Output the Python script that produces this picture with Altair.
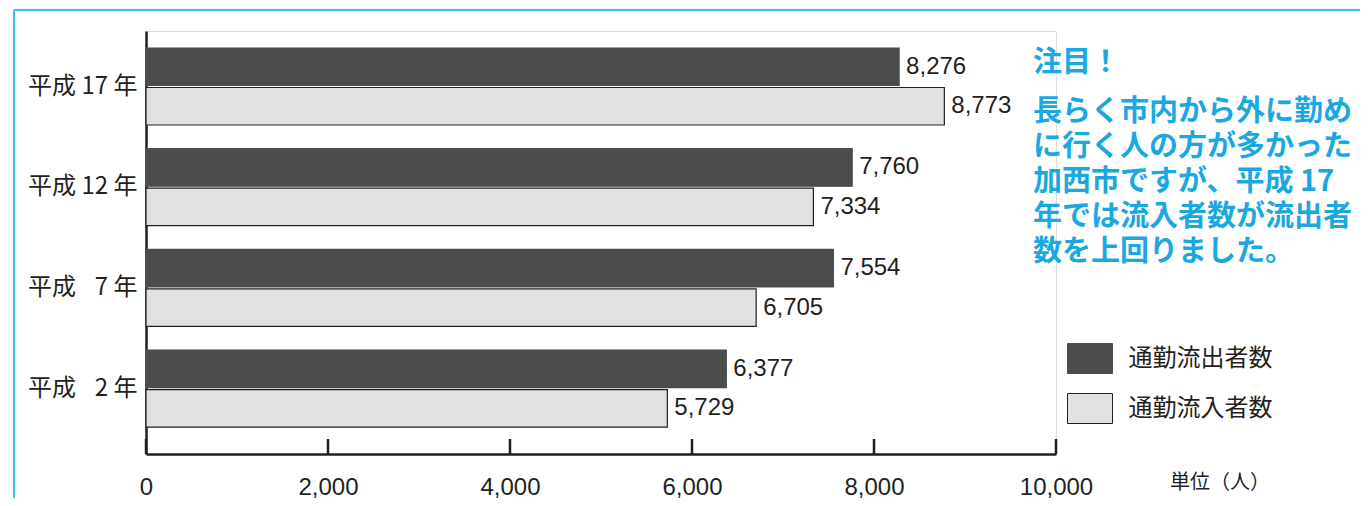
import altair as alt
import pandas as pd

# ---- data ----
years = ["平成 17 年", "平成 12 年", "平成\u2007 7 年", "平成\u2007 2 年"]
series = ["通勤流出者数", "通勤流入者数"]
outflow = [8276, 7760, 7554, 6377]
inflow = [8773, 7334, 6705, 5729]
tick_values = [0, 2000, 4000, 6000, 8000, 10000]
unit_label = ["単位（人）"]
note_title = ["注目！"]
note_body = ["長らく市内から外に勤め\nに行く人の方が多かった\n加西市ですが、平成 17\n年では流入者数が流出者\n数を上回りました。"]

rows = []
for y, o, i in zip(years, outflow, inflow):
    rows.append({"year": y, "series": series[0], "value": o})
    rows.append({"year": y, "series": series[1], "value": i})
df = pd.DataFrame(rows)

DARK = "#4b4c4e"
LIGHT = "#e0e1e3"
INK = "#231f20"
BLUE = "#1ba8e0"
JP = "Noto Sans CJK JP"
LAT = "Liberation Sans"

W, H = 910, 423

xscale = alt.Scale(domain=[0, 10000], nice=False, zero=True)
xaxis = alt.Axis(values=tick_values, format=",d", ticks=False, grid=False, labelFlush=False,
                 labelPadding=21, labelFontSize=24, labelFont=LAT, labelColor=INK,
                 domainColor=INK, domainWidth=2.5)
yenc = alt.Y("year:N", sort=years, title=None,
             scale=alt.Scale(paddingInner=0.235, paddingOuter=0.218, align=0.387),
             axis=alt.Axis(ticks=False, labelPadding=9, labelFontSize=24, labelFont=JP,
                           labelColor=INK, domainColor=INK, domainWidth=2.5))
yoff = alt.YOffset("series:N", sort=series, scale=alt.Scale(paddingInner=0.05))

bars = alt.Chart(df).mark_bar(strokeWidth=1.2).encode(
    x=alt.X("value:Q", scale=xscale, title=None, axis=xaxis),
    y=yenc,
    yOffset=yoff,
    color=alt.Color("series:N", sort=series,
                    scale=alt.Scale(domain=series, range=[DARK, LIGHT]),
                    legend=alt.Legend(title=None, orient="none", legendX=928.5, legendY=312,
                                      symbolType="M-1.5,-1H1.5V1H-1.5Z", symbolSize=900,
                                      symbolStrokeColor=INK, symbolStrokeWidth=1,
                                      symbolOpacity=1, labelFontSize=24, labelFont=JP,
                                      labelColor=INK, labelOffset=23, rowPadding=15,
                                      padding=0)),
    stroke=alt.Stroke("series:N", sort=series,
                      scale=alt.Scale(domain=series, range=[DARK, INK]), legend=None),
)

labels = alt.Chart(df).mark_text(align="left", baseline="middle", dx=7, fontSize=24,
                                 font=LAT, color=INK).encode(
    x=alt.X("value:Q", scale=xscale, title=None, axis=xaxis),
    y=alt.Y("year:N", sort=years),
    yOffset=yoff,
    text=alt.Text("value:Q", format=",d"),
)

ticks = alt.Chart(pd.DataFrame({"t": tick_values})).mark_rule(color=INK, strokeWidth=2.5).encode(
    x=alt.X("t:Q", scale=xscale, title=None, axis=xaxis),
    y=alt.value(H),
    y2=alt.value(H - 15),
)

border_top = alt.Chart(pd.DataFrame({"a": [0]})).mark_rule(color="#3ec0ee", strokeWidth=2).encode(
    x=alt.value(-132), x2=alt.value(1300), y=alt.value(-21))
border_left = alt.Chart(pd.DataFrame({"a": [0]})).mark_rule(color="#3ec0ee", strokeWidth=2).encode(
    x=alt.value(-132), y=alt.value(-21), y2=alt.value(480))

unit = alt.Chart(pd.DataFrame({"t": unit_label})).mark_text(
    align="left", baseline="middle", fontSize=20, font=JP, color=INK).encode(
    x=alt.value(1024), y=alt.value(452), text="t:N")

title = alt.Chart(pd.DataFrame({"t": note_title})).mark_text(
    align="left", baseline="middle", fontSize=29, font=JP, fontWeight="bold", color=BLUE).encode(
    x=alt.value(887), y=alt.value(32), text="t:N")

body = alt.Chart(pd.DataFrame({"t": note_body})).mark_text(
    align="left", baseline="middle", fontSize=29, font=JP, fontWeight="bold", color=BLUE,
    lineBreak="\n", lineHeight=35).encode(
    x=alt.value(887), y=alt.value(81), text="t:N")

chart = alt.layer(border_top, border_left, bars, labels, ticks, unit, title, body).properties(
    width=W, height=H,
    autosize=alt.AutoSizeParams(type="none"),
    padding={"left": 138, "top": 23, "right": 304, "bottom": 44},
).configure_view(stroke=None).configure(background="white")

chart.save("out.html", embed_options={"renderer": "svg", "actions": False})
